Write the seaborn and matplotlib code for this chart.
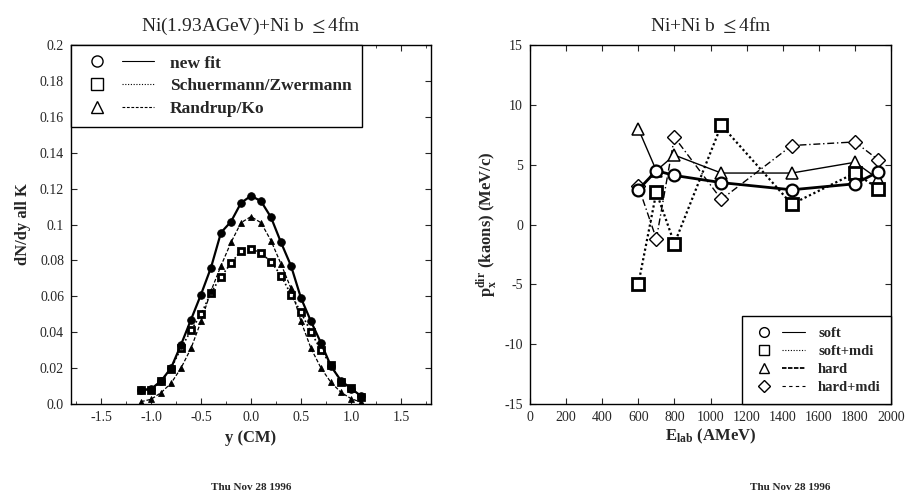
import matplotlib
matplotlib.use("Agg")
import matplotlib.pyplot as plt
from matplotlib.lines import Line2D
from matplotlib.legend_handler import HandlerTuple
import seaborn as sns
import numpy as np
import pandas as pd

# ---------------- data: left panel (rapidity distribution) ----------------
y_cm = [-1.1, -1.0, -0.9, -0.8, -0.7, -0.6, -0.5, -0.4, -0.3, -0.2, -0.1, 0.0,
        0.1, 0.2, 0.3, 0.4, 0.5, 0.6, 0.7, 0.8, 0.9, 1.0, 1.1]
new_fit = [0.008, 0.0083, 0.0128, 0.020, 0.033, 0.047, 0.061, 0.076, 0.0955, 0.1016, 0.112, 0.116,
           0.113, 0.104, 0.090, 0.077, 0.059, 0.046, 0.034, 0.021, 0.013, 0.0086, 0.0045]
schuermann = [0.0076, 0.008, 0.0126, 0.0197, 0.031, 0.041, 0.050, 0.062, 0.0709, 0.0784, 0.0854, 0.0865,
              0.084, 0.0793, 0.0715, 0.061, 0.051, 0.040, 0.030, 0.0217, 0.0125, 0.0088, 0.004]
randrup = [0.0013, 0.0026, 0.0063, 0.0115, 0.020, 0.031, 0.046, 0.063, 0.077, 0.090, 0.101, 0.1044,
           0.101, 0.091, 0.078, 0.0644, 0.046, 0.031, 0.020, 0.012, 0.0065, 0.003, 0.001]

# ---------------- data: right panel (directed flow) ----------------
e_lab = [600, 700, 800, 1060, 1450, 1800, 1930]
soft = [2.9, 4.5, 4.1, 3.5, 2.9, 3.4, 4.4]
soft_mdi = [-5.0, 2.7, -1.6, 8.3, 1.7, 4.3, 3.0]
hard = [8.0, 4.5, 5.8, 4.3, 4.3, 5.2, 3.8]
hard_mdi = [3.2, -1.2, 7.3, 2.1, 6.6, 6.9, 5.4]

left_yticks = [0.0, 0.02, 0.04, 0.06, 0.08, 0.1, 0.12, 0.14, 0.16, 0.18, 0.2]
left_yticklabels = ["0.0", "0.02", "0.04", "0.06", "0.08", "0.1", "0.12", "0.14", "0.16", "0.18", "0.2"]
left_xticks = [-1.5, -1.0, -0.5, 0.0, 0.5, 1.0, 1.5]
left_xticklabels = ["-1.5", "-1.0", "-0.5", "0.0", "0.5", "1.0", "1.5"]
right_xticks = list(range(0, 2001, 200))
right_yticks = [-15, -10, -5, 0, 5, 10, 15]

sns.set_theme(style="ticks")
plt.rcParams['font.family'] = ['Liberation Serif', 'DejaVu Serif']
plt.rcParams['mathtext.fontset'] = 'stix'
plt.rcParams['axes.unicode_minus'] = False

fig = plt.figure(figsize=(9.09, 4.99), dpi=100)
W, H = 909, 499
axL = fig.add_axes([71 / W, 1 - 404 / H, 360 / W, 359 / H])
axR = fig.add_axes([530 / W, 1 - 404 / H, 361 / W, 359 / H])

# ---------- left panel ----------
dfL = pd.DataFrame({"y": y_cm, "new fit": new_fit, "Schuermann/Zwermann": schuermann,
                    "Randrup/Ko": randrup})
sns.lineplot(data=dfL, x="y", y="Schuermann/Zwermann", ax=axL, color="black", lw=1.2,
             linestyle=(0, (1, 1.5)), marker="s", markersize=5, markerfacecolor="white",
             markeredgecolor="black", markeredgewidth=2.0)
sns.lineplot(data=dfL, x="y", y="Randrup/Ko", ax=axL, color="black", lw=0.9,
             linestyle=(0, (3, 1.5)), marker="^", markersize=4.5, markerfacecolor="black",
             markeredgecolor="black", markeredgewidth=0.6)
sns.lineplot(data=dfL, x="y", y="new fit", ax=axL, color="black", lw=1.6,
             linestyle="-", marker="o", markersize=5.5, markerfacecolor="black",
             markeredgecolor="black", markeredgewidth=0.6)

axL.set_xlim(-1.8, 1.8)
axL.set_ylim(0, 0.2)
axL.set_xticks(left_xticks)
axL.set_xticklabels(left_xticklabels)
axL.set_yticks(left_yticks)
axL.set_yticklabels(left_yticklabels)
axL.set_xlabel("y (CM)", fontsize=12, fontweight="bold", labelpad=4)
axL.set_ylabel("dN/dy all K", fontsize=12, fontweight="bold", labelpad=6)
axL.set_title("Ni(1.93AGeV)+Ni b $\\leq$4fm", fontsize=14, pad=10)


def pair(marker, ls, lw, ms):
    m = Line2D([], [], color="black", linestyle="none", marker=marker, markersize=ms,
               markerfacecolor="white", markeredgecolor="black", markeredgewidth=1.0)
    l = Line2D([], [], color="black", lw=lw, linestyle=ls)
    return (m, l)


hL = [pair("o", "-", 0.8, 8), pair("s", (0, (1, 1.5)), 0.8, 8), pair("^", (0, (2.5, 1.5)), 0.8, 8)]
legL = axL.legend(hL, ["new fit", "Schuermann/Zwermann", "Randrup/Ko"], loc="upper left",
                  bbox_to_anchor=(0.0, 1.0), frameon=True, fancybox=False, edgecolor="black",
                  borderaxespad=0.0, handlelength=4.2, handletextpad=0.9,
                  handler_map={tuple: HandlerTuple(ndivide=2, pad=0.5)},
                  prop={"family": "Liberation Serif", "size": 12.5, "weight": "bold"},
                  borderpad=0.6, labelspacing=0.38, framealpha=1)
legL.get_frame().set_linewidth(1.0)

# ---------- right panel ----------
dfR = pd.DataFrame({"E": e_lab, "soft": soft, "soft+mdi": soft_mdi, "hard": hard,
                    "hard+mdi": hard_mdi})
sns.lineplot(data=dfR, x="E", y="hard+mdi", ax=axR, color="black", lw=1.0,
             linestyle=(0, (5, 2, 1, 2)), marker="D", markersize=7, markerfacecolor="white",
             markeredgecolor="black", markeredgewidth=1.0)
sns.lineplot(data=dfR, x="E", y="hard", ax=axR, color="black", lw=1.0,
             linestyle="-", marker="^", markersize=8, markerfacecolor="white",
             markeredgecolor="black", markeredgewidth=1.1)
sns.lineplot(data=dfR, x="E", y="soft+mdi", ax=axR, color="black", lw=1.6,
             linestyle=(0, (1, 1.2)), marker="s", markersize=8, markerfacecolor="white",
             markeredgecolor="black", markeredgewidth=2.0)
sns.lineplot(data=dfR, x="E", y="soft", ax=axR, color="black", lw=2.0,
             linestyle="-", marker="o", markersize=8.5, markerfacecolor="white",
             markeredgecolor="black", markeredgewidth=1.6)

axR.set_xlim(0, 2000)
axR.set_ylim(-15, 15)
axR.set_xticks(right_xticks)
axR.set_yticks(right_yticks)
axR.set_xlabel("E$_{\\mathregular{lab}}$ (AMeV)", fontsize=12, fontweight="bold", labelpad=2)
axR.set_ylabel("p$_{\\mathregular{x}}^{\\mathregular{dir}}$ (kaons) (MeV/c)", fontsize=12,
               fontweight="bold", labelpad=4)
axR.set_title("Ni+Ni b $\\leq$4fm", fontsize=14, pad=10)

hR = [pair("o", "-", 0.8, 7), pair("s", (0, (1, 1.5)), 0.8, 7),
      pair("^", (0, (2.5, 0.8)), 1.3, 7), pair("D", (0, (3, 3)), 0.8, 6)]
legR = axR.legend(hR, ["soft", "soft+mdi", "hard", "hard+mdi"], loc="lower right",
                  bbox_to_anchor=(1.0, 0.0), frameon=True, fancybox=False, edgecolor="black",
                  borderaxespad=0.0, handlelength=3.6, handletextpad=0.9,
                  handler_map={tuple: HandlerTuple(ndivide=2, pad=0.5)},
                  prop={"family": "Liberation Serif", "size": 10.5, "weight": "bold"},
                  borderpad=0.7, labelspacing=0.33, framealpha=1)
legR.get_frame().set_linewidth(1.0)

for ax in (axL, axR):
    ax.tick_params(direction="in", top=True, right=True, length=4, width=0.8,
                   labelsize=10, pad=5)
    ax.minorticks_off()
    for s in ax.spines.values():
        s.set_linewidth(1.0)
        s.set_color("black")

axL.set_xticks([-1.75, -1.25, -0.75, -0.25, 0.25, 0.75, 1.25, 1.75], minor=True)
axL.tick_params(which="minor", direction="in", top=True, right=True, length=2, width=0.6)

fig.text(251 / W, 1 - 487 / H, "Thu Nov 28 1996", ha="center", va="center", fontsize=8,
         fontweight="bold")
fig.text(790 / W, 1 - 487 / H, "Thu Nov 28 1996", ha="center", va="center", fontsize=8,
         fontweight="bold")

fig.savefig("out.png", dpi=100)
